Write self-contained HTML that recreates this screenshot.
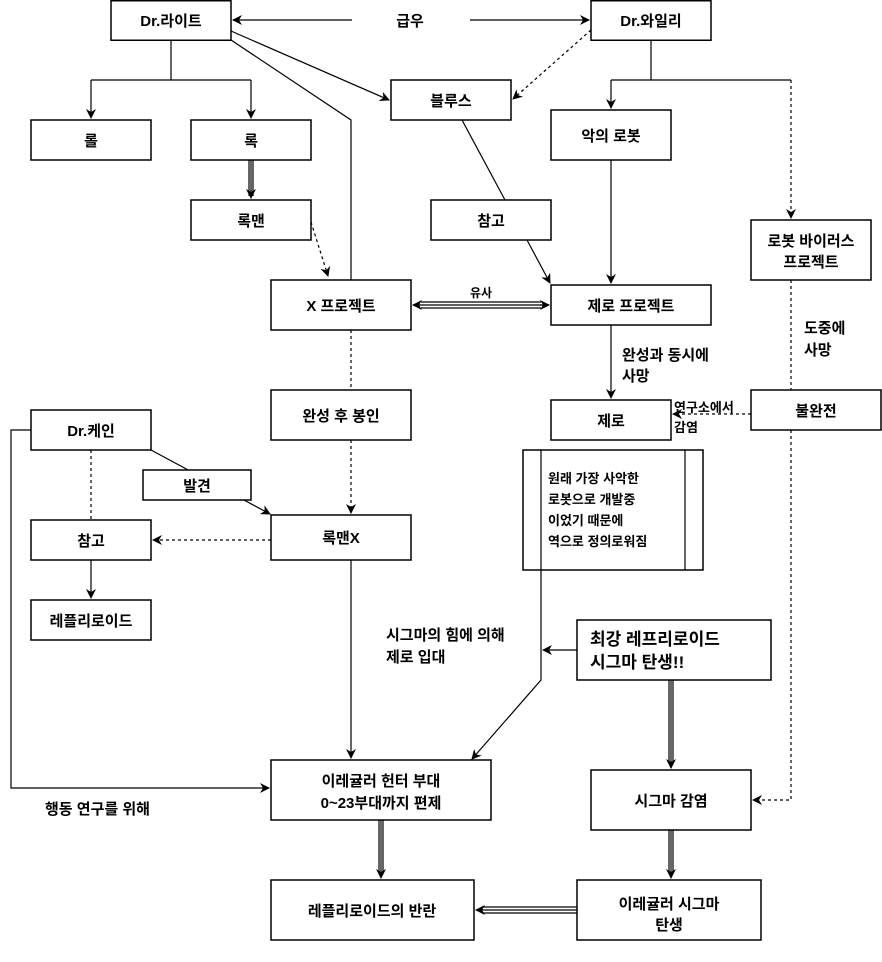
<!DOCTYPE html>
<html><head><meta charset="utf-8"><style>
html,body{margin:0;padding:0;background:#fff}
svg{display:block}
text{font-family:"Liberation Sans","Noto Sans CJK KR",sans-serif;font-size:15px;font-weight:bold;fill:#000}
.b{fill:#fff;stroke:#000;stroke-width:1.5}
.l{stroke:#000;stroke-width:1.2;fill:none}
.d{stroke:#000;stroke-width:1.2;fill:none;stroke-dasharray:3,3}
</style></head><body>
<svg width="882" height="962" viewBox="0 0 882 962" xmlns="http://www.w3.org/2000/svg">
<defs>
<marker id="a" markerWidth="10" markerHeight="10" refX="9" refY="5" orient="auto" markerUnits="userSpaceOnUse"><path d="M0,0 L10,5 L0,10 L3,5 z" fill="#000"/></marker>
</defs>
<!-- connectors -->
<path class="l" d="M352,20 H233" marker-end="url(#a)"/>
<path class="l" d="M470,20 H589" marker-end="url(#a)"/>
<path class="l" d="M171,40 V80 M91,80 H251"/>
<path class="l" d="M91,80 V118" marker-end="url(#a)"/>
<path class="l" d="M251,80 V118" marker-end="url(#a)"/>
<path class="l" d="M249,160 V196 M253,160 V196 M251,160 V198" />
<path class="l" d="M251,190 V198" marker-end="url(#a)"/>
<path class="d" d="M311,222 L328,276" marker-end="url(#a)"/>
<path class="l" d="M231,40 L351,120 V280"/>
<path class="l" d="M231,31 L389,100" marker-end="url(#a)"/>
<path class="d" d="M591,30 L513,99" marker-end="url(#a)"/>
<path class="l" d="M651,40 V80 M611,80 H791"/>
<path class="l" d="M611,80 V108" marker-end="url(#a)"/>
<path class="d" d="M791,80 V218" marker-end="url(#a)"/>
<path class="l" d="M462,120 L505,200"/>
<path class="l" d="M527,240 L550,283" marker-end="url(#a)"/>
<path class="l" d="M611,160 V283" marker-end="url(#a)"/>
<path class="l" d="M421,302 H541 M421,308 H541 M413,305 H549"/>
<path class="l" d="M420,305 H413" marker-end="url(#a)"/>
<path class="l" d="M540,305 H549" marker-end="url(#a)"/>
<path class="l" d="M611,325 V398" marker-end="url(#a)"/>
<path class="d" d="M791,280 V800 H753" marker-end="url(#a)"/>
<path class="d" d="M751,414 H673" marker-end="url(#a)"/>
<path class="d" d="M351,330 V390"/>
<path class="d" d="M351,440 V513" marker-end="url(#a)"/>
<path class="l" d="M151,450 L270,514" marker-end="url(#a)"/>
<path class="d" d="M91,450 V520"/>
<path class="l" d="M91,560 V598" marker-end="url(#a)"/>
<path class="d" d="M271,540 H153" marker-end="url(#a)"/>
<path class="l" d="M31,430 H11 V788 H269" marker-end="url(#a)"/>
<path class="l" d="M351,560 V758" marker-end="url(#a)"/>
<path class="l" d="M541,570 V680 L472,759" marker-end="url(#a)"/>
<path class="l" d="M577,650 H543" marker-end="url(#a)"/>
<path class="l" d="M669,680 V762 M673,680 V762 M671,680 V768" marker-end="url(#a)"/>
<path class="l" d="M669,830 V872 M673,830 V872 M671,830 V878" marker-end="url(#a)"/>
<path class="l" d="M379,820 V872 M383,820 V872 M381,820 V878" marker-end="url(#a)"/>
<path class="l" d="M577,907 H482 M577,913 H482 M577,910 H476" marker-end="url(#a)"/>
<!-- boxes -->
<rect class="b" x="111" y="0.75" width="120" height="39.5"/>
<rect class="b" x="591" y="0.75" width="120" height="39.5"/>
<rect class="b" x="31" y="120" width="120" height="40"/>
<rect class="b" x="191" y="120" width="120" height="40"/>
<rect class="b" x="191" y="200" width="120" height="40"/>
<rect class="b" x="391" y="80" width="120" height="40"/>
<rect class="b" x="551" y="110" width="120" height="50"/>
<rect class="b" x="431" y="200" width="120" height="40"/>
<rect class="b" x="751" y="220" width="120" height="60"/>
<rect class="b" x="271" y="280" width="140" height="50"/>
<rect class="b" x="551" y="285" width="160" height="40"/>
<rect class="b" x="551" y="400" width="120" height="40"/>
<rect class="b" x="751" y="390" width="130" height="40"/>
<rect class="b" x="523" y="450" width="180" height="120"/>
<path class="l" d="M541,450 V570 M685,450 V570"/>
<rect class="b" x="31" y="410" width="120" height="40"/>
<rect class="b" x="271" y="390" width="140" height="50"/>
<rect class="b" x="143" y="470" width="108" height="30"/>
<rect class="b" x="271" y="515" width="140" height="45"/>
<rect class="b" x="31" y="520" width="120" height="40"/>
<rect class="b" x="31" y="600" width="120" height="40"/>
<rect class="b" x="577" y="620" width="194" height="60"/>
<rect class="b" x="271" y="760" width="220" height="60"/>
<rect class="b" x="591" y="770" width="160" height="60"/>
<rect class="b" x="271" y="880" width="203" height="60"/>
<rect class="b" x="577" y="880" width="184" height="60"/>
<!-- labels -->
<rect x="355" y="8" width="112" height="24" fill="#fff"/>
<g text-anchor="middle">
<text x="171" y="26">Dr.라이트</text>
<text x="410" y="26">급우</text>
<text x="651" y="26">Dr.와일리</text>
<text x="91" y="146">롤</text>
<text x="251" y="146">록</text>
<text x="251" y="226">록맨</text>
<text x="451" y="106">블루스</text>
<text x="611" y="141">악의 로봇</text>
<text x="491" y="226">참고</text>
<text x="811" y="246">로봇 바이러스</text>
<text x="811" y="267">프로젝트</text>
<text x="341" y="311">X 프로젝트</text>
<text x="631" y="311">제로 프로젝트</text>
<text x="481" y="297" style="font-size:12px">유사</text>
<text x="611" y="426">제로</text>
<text x="816" y="416">불완전</text>
<text x="91" y="436">Dr.케인</text>
<text x="341" y="421">완성 후 봉인</text>
<text x="197" y="491">발견</text>
<text x="341" y="543">록맨X</text>
<text x="91" y="546">참고</text>
<text x="91" y="626">레플리로이드</text>
<text x="381" y="786">이레귤러 헌터 부대</text>
<text x="381" y="808">0~23부대까지 편제</text>
<text x="671" y="806">시그마 감염</text>
<text x="372" y="916">레플리로이드의 반란</text>
<text x="669" y="909">이레귤러 시그마</text>
<text x="669" y="930">탄생</text>
</g>
<text x="804" y="333">도중에</text>
<text x="804" y="355">사망</text>
<text x="622" y="360">완성과 동시에</text>
<text x="622" y="381">사망</text>
<text x="674" y="412" style="font-size:13px">연구소에서</text>
<text x="674" y="432" style="font-size:13px">감염</text>
<text x="548" y="483" style="font-size:13px">원래 가장 사악한</text>
<text x="548" y="504" style="font-size:13px">로봇으로 개발중</text>
<text x="548" y="525" style="font-size:13px">이었기 때문에</text>
<text x="548" y="546" style="font-size:13px">역으로 정의로워짐</text>
<text x="386" y="640">시그마의 힘에 의해</text>
<text x="386" y="662">제로 입대</text>
<text x="590" y="645" style="font-size:17px">최강 레프리로이드</text>
<text x="590" y="668" style="font-size:17px">시그마 탄생!!</text>
<text x="45" y="814">행동 연구를 위해</text>
</svg>
</body></html>
